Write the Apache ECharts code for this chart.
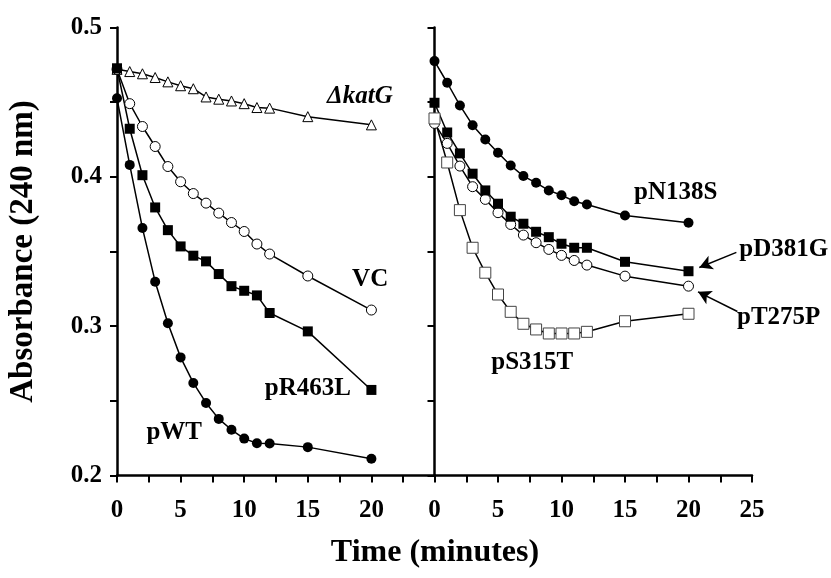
<!DOCTYPE html>
<html><head><meta charset="utf-8">
<script src="https://cdn.jsdelivr.net/npm/echarts@6/dist/echarts.min.js"></script>
<style>html,body{margin:0;padding:0;background:#fff}#c{width:831px;height:578px}</style>
</head><body><div id="c"></div>
<script>
const times = [0,1,2,3,4,5,6,7,8,9,10,11,12,15,20];
// left panel
const katG   = [0.472, 0.4705, 0.469, 0.4665, 0.4636, 0.461, 0.4590, 0.4535, 0.452, 0.4508, 0.449, 0.4464, 0.446, 0.4403, 0.4348];
const vc     = [0.472, 0.449, 0.4337, 0.4203, 0.4069, 0.3967, 0.3888, 0.3824, 0.3757, 0.3694, 0.3634, 0.355, 0.3483, 0.3336, 0.3108];
const pR463L = [0.4727, 0.4322, 0.4011, 0.3795, 0.3643, 0.3534, 0.3472, 0.3434, 0.3349, 0.3268, 0.3237, 0.3206, 0.3088, 0.2965, 0.2573];
const pWT    = [0.4526, 0.408, 0.3657, 0.3298, 0.3019, 0.2791, 0.262, 0.2486, 0.2379, 0.2306, 0.2247, 0.2216, 0.2214, 0.219, 0.2112];
// right panel
const pN138S = [0.4775, 0.463, 0.4478, 0.4346, 0.425, 0.4161, 0.4076, 0.4005, 0.396, 0.3909, 0.3877, 0.3837, 0.3815, 0.3741, 0.3693];
const pD381G = [0.4496, 0.4297, 0.4157, 0.4021, 0.3909, 0.382, 0.3733, 0.3686, 0.3632, 0.3596, 0.3552, 0.3525, 0.3525, 0.3431, 0.3368];
const pT275P = [0.4358, 0.4224, 0.4072, 0.3934, 0.3849, 0.376, 0.3681, 0.361, 0.3559, 0.3514, 0.3474, 0.344, 0.3409, 0.3335, 0.3268];
const pS315T = [0.4391, 0.4096, 0.3777, 0.3525, 0.3358, 0.3212, 0.3096, 0.3016, 0.2978, 0.2951, 0.2951, 0.2951, 0.2962, 0.3033, 0.3083];
// annotation labels
const labelNames = ['ΔkatG','VC','pR463L','pWT','pN138S','pD381G','pT275P','pS315T'];
const labelPanel = [0,0,0,0,1,1,1,1];
const labelT     = [19.1, 19.9, 15.0, 4.5, 19.0, 27.5, 27.1, 7.7];
const labelA     = [0.4535, 0.3311, 0.2582, 0.2288, 0.3896, 0.3514, 0.3058, 0.2757];
// arrows (right panel): from -> to
const arrowFrom = [[23.77, 0.3494], [23.85, 0.3098]];
const arrowTo   = [[20.85, 0.3393], [20.75, 0.3230]];

const FONT = "'Liberation Serif','Times New Roman',serif";
const pairs = v => times.map((t,i)=>[t, v[i]]);

function yAxisCfg(idx, showLabel){
  return {
    type:'value', gridIndex: idx, min:0.2, max:0.5, interval:0.05,
    axisLine:{show:true, lineStyle:{color:'#000', width:2.5}},
    axisTick:{show:true, inside:false, length:7, lineStyle:{color:'#000', width:2}},
    splitLine:{show:false},
    axisLabel:{show:showLabel, margin:15, color:'#000', fontFamily:FONT, fontWeight:'bold', fontSize:25,
      formatter: v => { const r = Math.round(v*100); return r%10===0 ? (r/100).toFixed(1) : ''; }}
  };
}
function xAxisCfg(idx, maxLabel){
  return {
    type:'value', gridIndex: idx, min:0, max:25, interval:2.5,
    axisLine:{show:true, onZero:false, lineStyle:{color:'#000', width:2.5}},
    axisTick:{show:true, length:7, lineStyle:{color:'#000', width:2}},
    splitLine:{show:false},
    axisLabel:{margin:23, color:'#000', fontFamily:FONT, fontWeight:'bold', fontSize:25,
      formatter: v => (Math.abs(v%5)<1e-6 && v<=maxLabel) ? String(v) : ''}
  };
}
function ser(name, idx, data, symbol, filled, size, extra){
  return Object.assign({
    name, type:'line', xAxisIndex: idx, yAxisIndex: idx, data: pairs(data),
    symbol, symbolSize:size, showSymbol:true, showAllSymbol:true,
    lineStyle:{color:'#000', width:1.5},
    itemStyle:{color: filled ? '#000' : '#fff', borderColor:'#000', borderWidth: filled?0:1},
    emphasis:{disabled:true}, z: 3
  }, extra||{});
}

const chart = echarts.init(document.getElementById('c'), null, {renderer:'canvas'});
chart.setOption({
  animation:false,
  backgroundColor:'#fff',
  grid:[
    {left:117, top:27.5, width:318, height:448},
    {left:434.5, top:27.5, width:317.5, height:448}
  ],
  xAxis:[xAxisCfg(0,20), xAxisCfg(1,25)],
  yAxis:[
    Object.assign(yAxisCfg(0,true), {name:'Absorbance (240 nm)', nameLocation:'middle', nameGap:77,
      nameTextStyle:{color:'#000', fontFamily:FONT, fontWeight:'bold', fontSize:33}}),
    yAxisCfg(1,false)
  ],
  series:[
    ser('ΔkatG',0,katG,'triangle',false,10),
    ser('VC',0,vc,'circle',false,10),
    ser('pR463L',0,pR463L,'rect',true,10),
    ser('pWT',0,pWT,'circle',true,10),
    ser('pN138S',1,pN138S,'circle',true,10),
    ser('pT275P',1,pT275P,'circle',false,10),
    ser('pD381G',1,pD381G,'rect',true,10),
    ser('pS315T',1,pS315T,'rect',false,11, {
      itemStyle:{color:'#fff', borderColor:'#444', borderWidth:1},
      markLine:{silent:true, symbol:['none','arrow'], symbolSize:[11,13], label:{show:false},
        lineStyle:{color:'#000', width:1.5, type:'solid'},
        data: arrowFrom.map((f,i)=>[{coord:f},{coord:arrowTo[i]}])}
    })
  ]
});

const g = [];
labelNames.forEach((txt,i)=>{
  const p = chart.convertToPixel({gridIndex:labelPanel[i]}, [labelT[i], labelA[i]]);
  g.push({type:'text', x:p[0], y:p[1], z:10, style:{
    text: txt, fill:'#000', font: (i===0?'italic ':'') + 'bold 25px ' + FONT,
    align:'center', verticalAlign:'middle'}});
});
const px = chart.convertToPixel({gridIndex:0}, [25, 0.2]);
g.push({type:'text', x:px[0], y:px[1]+77, style:{text:'Time (minutes)', fill:'#000',
  font:'bold 32px ' + FONT, align:'center', verticalAlign:'middle'}});
chart.setOption({graphic:g});
</script></body></html>
